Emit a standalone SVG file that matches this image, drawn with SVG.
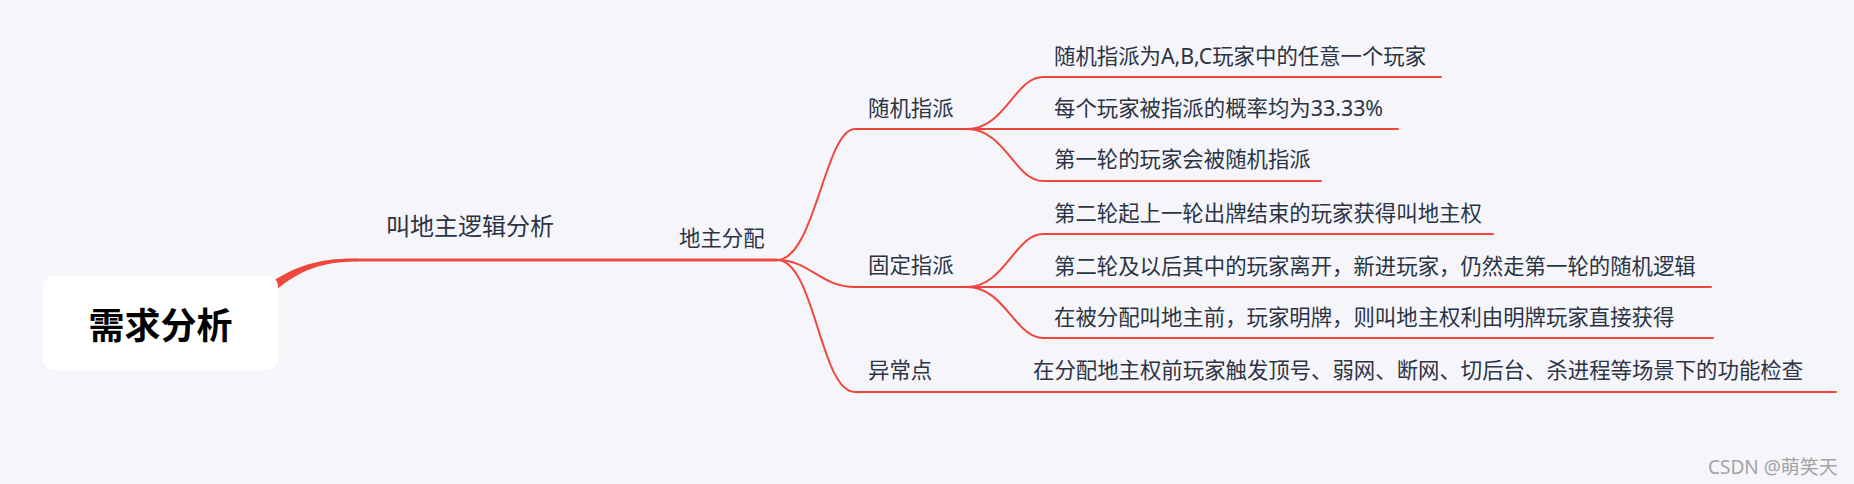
<svg xmlns="http://www.w3.org/2000/svg" width="1854" height="484" viewBox="0 0 1854 484">
<style>
.bg{fill:#f5f5fa}
.ln{fill:none;stroke:#f0463b;stroke-width:2;stroke-linecap:round}
.ln3{fill:none;stroke:#f0463b;stroke-width:3}
.tp{fill:#f0463b}
.t{font-family:"Noto Sans","Noto Sans CJK SC",sans-serif;font-size:21.4px;fill:#2b3445}
.t1{font-size:24px}
.root{font-family:"Noto Sans","Noto Sans CJK SC",sans-serif;font-size:36px;font-weight:bold;fill:#000}
.wm{font-family:"Noto Sans","Noto Sans CJK SC",sans-serif;font-size:19px;fill:#a3a3a3}
</style>
<rect class="bg" x="0" y="0" width="1854" height="484"/>
<g id="connectors">
<path class="tp" d="M270,283 C295,266 320,258 356,258.5 L356,261.5 C322,262 300,270 276,290 Z"/>
<path class="ln3" d="M355,260 L777,260"/>
<path class="ln" d="M777,260 C815,260 825,129 855,129 L967,129"/>
<path class="ln" d="M777,260 C810,260 820,287 855,287 L967,287"/>
<path class="ln" d="M777,260 C815,260 820,392 855,392 L1836,392"/>
<path class="ln" d="M967,129 C1005,129 1015,77 1043,77 L1441,77"/>
<path class="ln" d="M967,129 L1398,129"/>
<path class="ln" d="M967,129 C1005,129 1015,181 1043,181 L1321,181"/>
<path class="ln" d="M967,287 C1005,287 1015,234 1043,234 L1493,234"/>
<path class="ln" d="M967,287 L1711,287"/>
<path class="ln" d="M967,287 C1005,287 1015,338 1043,338 L1713,338"/>
</g>
<g id="node-root">
<rect x="43" y="276" width="235" height="94" rx="10" ry="10" fill="#ffffff"/>
<text class="root" x="160.5" y="339" text-anchor="middle">需求分析</text>
</g>
<g id="node-jdz"><text class="t t1" x="386" y="235">叫地主逻辑分析</text></g>
<g id="node-dzfp"><text class="t" x="679" y="246">地主分配</text></g>
<g id="node-sjzp"><text class="t" x="868" y="116">随机指派</text></g>
<g id="node-gdzp"><text class="t" x="868" y="273">固定指派</text></g>
<g id="node-ycd"><text class="t" x="868" y="378">异常点</text></g>
<g id="node-l1"><text class="t" x="1054" y="64">随机指派为A,B,C玩家中的任意一个玩家</text></g>
<g id="node-l2"><text class="t" x="1054" y="116">每个玩家被指派的概率均为33.33%</text></g>
<g id="node-l3"><text class="t" x="1054" y="167">第一轮的玩家会被随机指派</text></g>
<g id="node-l4"><text class="t" x="1054" y="221">第二轮起上一轮出牌结束的玩家获得叫地主权</text></g>
<g id="node-l5"><text class="t" x="1054" y="274">第二轮及以后其中的玩家离开，新进玩家，仍然走第一轮的随机逻辑</text></g>
<g id="node-l6"><text class="t" x="1054" y="325">在被分配叫地主前，玩家明牌，则叫地主权利由明牌玩家直接获得</text></g>
<g id="node-l7"><text class="t" x="1033" y="378">在分配地主权前玩家触发顶号、弱网、断网、切后台、杀进程等场景下的功能检查</text></g>
<text class="wm" x="1708" y="474">CSDN @萌笑天</text>
</svg>
